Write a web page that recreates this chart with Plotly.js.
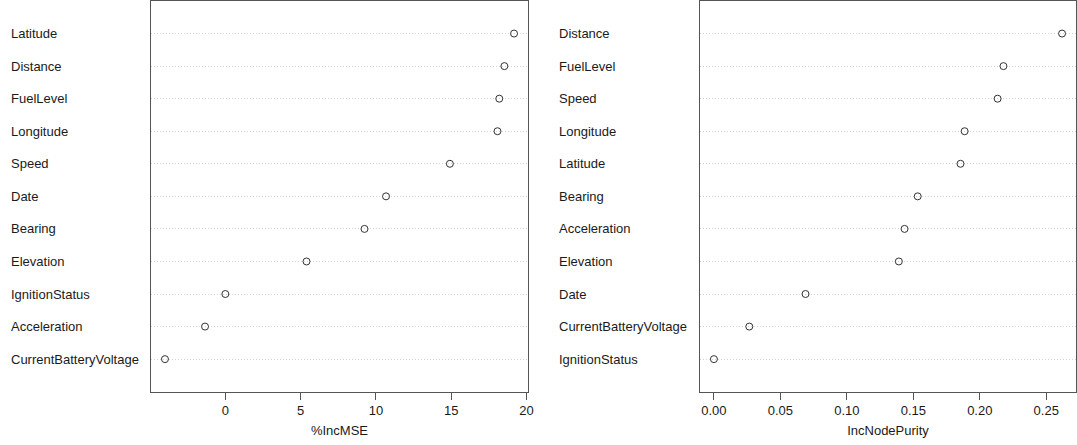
<!DOCTYPE html>
<html>
<head>
<meta charset="utf-8">
<script src="https://cdn.plot.ly/plotly-3.0.1.min.js"></script>
<style>
html,body{margin:0;padding:0;background:#fff;}
#chart{width:1077px;height:445px;}
</style>
</head>
<body>
<div id="chart"></div>
<script>
// Left panel: %IncMSE (listed top to bottom)
const mseVars = ["Latitude","Distance","FuelLevel","Longitude","Speed","Date","Bearing","Elevation","IgnitionStatus","Acceleration","CurrentBatteryVoltage"];
const mseVals = [19.17, 18.53, 18.19, 18.07, 14.91, 10.67, 9.24, 5.39, 0.0, -1.35, -4.01];
// Right panel: IncNodePurity (listed top to bottom)
const purVars = ["Distance","FuelLevel","Speed","Longitude","Latitude","Bearing","Acceleration","Elevation","Date","CurrentBatteryVoltage","IgnitionStatus"];
const purVals = [0.2619, 0.2178, 0.2134, 0.1886, 0.1855, 0.1533, 0.1434, 0.1391, 0.0689, 0.0266, 0.0];
const mseTicks = [0, 5, 10, 15, 20];
const purTicks = [0.00, 0.05, 0.10, 0.15, 0.20, 0.25];
const purTickText = ["0.00","0.05","0.10","0.15","0.20","0.25"];

const W = 1077, H = 445;
const font = {family: "Liberation Sans, Arial, sans-serif", size: 13, color: "#1a1a1a"};
const frame = "#555555";

function ext(vals){
  const mn = Math.min(...vals), mx = Math.max(...vals);
  const d = (mx - mn) * 0.04;
  return [mn - d, mx + d];
}

const marker = {symbol: "circle-open", size: 7, color: "#333333", line: {width: 1, color: "#333333"}};

const traces = [
  {x: mseVals, y: mseVars, type: "scatter", mode: "markers", marker: marker, xaxis: "x", yaxis: "y", hoverinfo: "x+y"},
  {x: purVals, y: purVars, type: "scatter", mode: "markers", marker: marker, xaxis: "x2", yaxis: "y2", hoverinfo: "x+y"}
];

function xax(domain, range, tickvals, ticktext, title){
  return {
    domain: domain, range: range, tickmode: "array", tickvals: tickvals, ticktext: ticktext,
    showgrid: false, zeroline: false, showline: true, mirror: true, linecolor: frame, linewidth: 1,
    ticks: "outside", ticklen: 7, tickcolor: frame, tickwidth: 1, tickfont: font,
    title: {text: title, font: font, standoff: 8}, automargin: false, fixedrange: true
  };
}
function yax(domain, cats, anchor){
  return {
    domain: domain, type: "category", categoryorder: "array", categoryarray: cats.slice().reverse(),
    range: [-1, cats.length], showticklabels: false, ticks: "",
    showgrid: true, gridcolor: "#d4d4d4", griddash: "1px,2px", gridwidth: 1,
    zeroline: false, showline: true, mirror: true, linecolor: frame, linewidth: 1,
    anchor: anchor, fixedrange: true
  };
}

const ydom = [1 - 391.7 / H, 1 - 1 / H];
const layout = {
  width: W, height: H,
  margin: {l: 0, r: 0, t: 0, b: 0, pad: 0},
  paper_bgcolor: "#ffffff", plot_bgcolor: "#ffffff",
  showlegend: false, font: font,
  xaxis: xax([151 / W, 528 / W], ext(mseVals), mseTicks, mseTicks.map(String), "%IncMSE"),
  yaxis: yax(ydom, mseVars, "x"),
  xaxis2: Object.assign(xax([700 / W, 1076 / W], ext(purVals), purTicks, purTickText, "IncNodePurity"), {anchor: "y2"}),
  yaxis2: yax(ydom, purVars, "x2"),
  annotations: []
};
layout.xaxis.anchor = "y";

mseVars.forEach(v => layout.annotations.push({
  text: v, x: 9 / W, xref: "paper", y: v, yref: "y", xanchor: "left", yanchor: "middle",
  showarrow: false, font: font
}));
purVars.forEach(v => layout.annotations.push({
  text: v, x: 557 / W, xref: "paper", y: v, yref: "y2", xanchor: "left", yanchor: "middle",
  showarrow: false, font: font
}));

Plotly.newPlot("chart", traces, layout, {displayModeBar: false, staticPlot: true});
</script>
</body>
</html>
